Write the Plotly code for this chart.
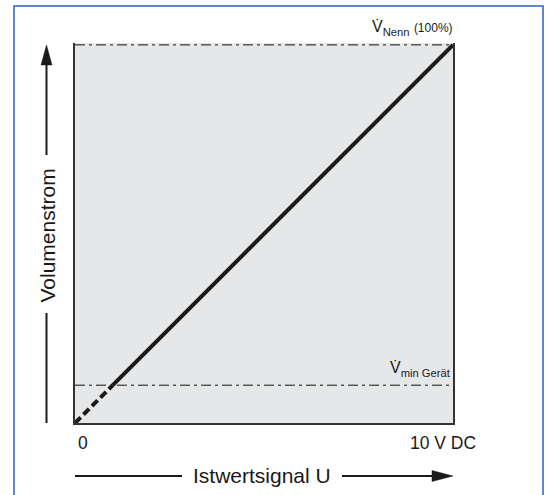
import plotly.graph_objects as go

# --- data ---
signal_v = [0, 1, 10]          # Istwertsignal U (V DC)
flow_pct = [0, 10, 100]        # Volumenstrom (% of V_Nenn)
vmin_pct = 10                  # V_min Gerät
vnenn_pct = 100                # V_Nenn (100%)
x_ticks = [0, 10]
x_tick_labels = ["0", "10 V DC"]

FONT = "Liberation Sans, Arial, Helvetica, sans-serif"
INK = "#1a1a1a"

# plot-area geometry in pixels (for decoration placement)
L, T, W, H = 75, 43, 378, 380
def fx(p):
    return (p - L) / W
def fy(p):
    return (T + H - p) / H

fig = go.Figure()

# reference lines
for lvl in (vnenn_pct, vmin_pct):
    fig.add_trace(go.Scatter(x=[x_ticks[0], x_ticks[-1]], y=[lvl, lvl], mode="lines",
                             line=dict(color="#111111", width=1, dash="10px,4px,3px,4px"),
                             hoverinfo="skip", showlegend=False))
# characteristic: dashed below V_min, solid above
fig.add_trace(go.Scatter(x=signal_v[:2], y=flow_pct[:2], mode="lines",
                         line=dict(color=INK, width=4, dash="8px,4px"),
                         hoverinfo="skip", showlegend=False))
fig.add_trace(go.Scatter(x=signal_v[1:], y=flow_pct[1:], mode="lines",
                         line=dict(color=INK, width=4),
                         hoverinfo="skip", showlegend=False))

shapes = []
# outer blue frame
shapes.append(dict(type="rect", xref="paper", yref="paper",
                   x0=fx(14), x1=fx(543), y0=fy(500), y1=fy(6),
                   line=dict(color="#2a62b8", width=1.5), layer="below"))
# vertical arrow (Volumenstrom)
ax_x = fx(46.5)
shapes.append(dict(type="line", xref="paper", yref="paper", x0=ax_x, x1=ax_x,
                   y0=fy(423), y1=fy(313), line=dict(color=INK, width=2)))
shapes.append(dict(type="line", xref="paper", yref="paper", x0=ax_x, x1=ax_x,
                   y0=fy(155), y1=fy(62), line=dict(color=INK, width=2)))
shapes.append(dict(type="path", xref="paper", yref="paper",
                   path=f"M {fx(46.5)} {fy(45)} L {fx(41)} {fy(65)} L {fx(52)} {fy(65)} Z",
                   fillcolor=INK, line=dict(color=INK, width=0.5)))
# horizontal arrow (Istwertsignal U)
ay_y = fy(476)
shapes.append(dict(type="line", xref="paper", yref="paper", x0=fx(75), x1=fx(182),
                   y0=ay_y, y1=ay_y, line=dict(color=INK, width=2)))
shapes.append(dict(type="line", xref="paper", yref="paper", x0=fx(342), x1=fx(436),
                   y0=ay_y, y1=ay_y, line=dict(color=INK, width=2)))
shapes.append(dict(type="path", xref="paper", yref="paper",
                   path=f"M {fx(453)} {fy(476)} L {fx(432)} {fy(470.5)} L {fx(432)} {fy(481.5)} Z",
                   fillcolor=INK, line=dict(color=INK, width=0.5)))

annotations = [
    dict(text="Volumenstrom", textangle=-90, xref="paper", yref="paper",
         x=fx(46.5), y=fy(236), xanchor="center", yanchor="middle",
         showarrow=False, font=dict(family=FONT, size=21, color=INK)),
    dict(text="Istwertsignal U", xref="paper", yref="paper",
         x=fx(262), y=fy(475), xanchor="center", yanchor="middle",
         showarrow=False, font=dict(family=FONT, size=21, color=INK)),
    dict(text=x_tick_labels[0], xref="x", yref="paper", x=x_ticks[0], xanchor="left", xshift=1,
         y=fy(443), yanchor="middle", showarrow=False, font=dict(family=FONT, size=17.5, color=INK)),
    dict(text=x_tick_labels[1], xref="x", yref="paper", x=x_ticks[1], xanchor="right", xshift=25,
         y=fy(443), yanchor="middle", showarrow=False, font=dict(family=FONT, size=17.5, color=INK)),
    dict(text="V\u0307<sub>Nenn</sub> <span style='font-size:12px'>(100%)</span>",
         xref="x", yref="y", x=x_ticks[-1], y=vnenn_pct, xanchor="right", yanchor="bottom",
         xshift=2, yshift=5, showarrow=False, font=dict(family=FONT, size=16, color=INK)),
    dict(text="V\u0307<sub>min Gerät</sub>",
         xref="x", yref="y", x=x_ticks[-1], y=vmin_pct, xanchor="right", yanchor="bottom",
         xshift=0, yshift=4, showarrow=False, font=dict(family=FONT, size=16, color=INK)),
]

fig.update_layout(
    width=550, height=495,
    margin=dict(l=L, r=550 - L - W, t=T, b=495 - T - H, pad=0),
    paper_bgcolor="white", plot_bgcolor="#e6e7e8",
    shapes=shapes, annotations=annotations, showlegend=False,
)
fig.update_xaxes(range=[0, 10], showgrid=False, zeroline=False, showticklabels=False,
                 ticks="", showline=True, linecolor="#333333", linewidth=2, mirror=False)
fig.update_yaxes(range=[0, 100.5], showgrid=False, zeroline=False, showticklabels=False,
                 ticks="", showline=True, linecolor="#333333", linewidth=2, mirror=True)

fig.write_html("out.html", config={"displayModeBar": False},
               post_script="document.body.style.margin='0';document.body.style.overflow='hidden';")
